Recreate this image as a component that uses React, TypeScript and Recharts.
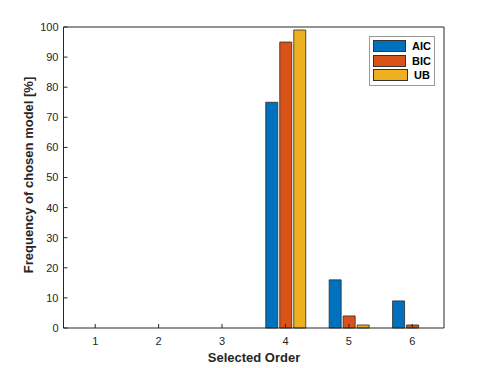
import React from 'react';
import { BarChart, Bar, XAxis, YAxis, Legend, Label } from 'recharts';

const orders = ['1', '2', '3', '4', '5', '6'];
const aicValues = [0, 0, 0, 75, 16, 9];
const bicValues = [0, 0, 0, 95, 4, 1];
const ubValues = [0, 0, 0, 99, 1, 0];
const yTicks = [0, 10, 20, 30, 40, 50, 60, 70, 80, 90, 100];

const data = orders.map((order, i) => ({
  order,
  AIC: aicValues[i],
  BIC: bicValues[i],
  UB: ubValues[i],
}));

const FONT = '"Liberation Sans", Arial, Helvetica, sans-serif';
const AXIS = '#262626';

const LegendBox = ({ payload }: any) => (
  <div
    style={{
      border: '1px solid #9a9a9a',
      background: '#fff',
      padding: '2px 3px',
      boxSizing: 'border-box',
      width: 66,
      fontFamily: FONT,
    }}
  >
    {(payload || []).map((p: any) => (
      <div key={p.value} style={{ display: 'flex', alignItems: 'center', height: 14.5 }}>
        <span
          style={{
            width: 35,
            height: 12,
            background: p.color,
            border: '1px solid #333',
            boxSizing: 'border-box',
          }}
        />
        <span style={{ marginLeft: 6, fontWeight: 'bold', fontSize: 11, color: '#000' }}>{p.value}</span>
      </div>
    ))}
  </div>
);

export default function App() {
  return (
    <div style={{ position: 'absolute', left: 0, top: 0, width: 491, height: 368, background: '#fff' }}>
      <BarChart
        width={491}
        height={368}
        data={data}
        margin={{ top: 26, right: 46, bottom: 0, left: 0 }}
        barSize={12}
        barGap={2}
        style={{ fontFamily: FONT }}
      >
        <XAxis
          dataKey="order"
          height={40}
          tickSize={-4}
          tickMargin={13}
          stroke={AXIS}
          tick={{ fill: AXIS, fontSize: 11 }}
          padding={{ left: 0, right: 0 }}
        >
          <Label
            content={() => (
              <text x={254} y={362} textAnchor="middle" fontWeight="bold" fontSize={13} fill={AXIS}>
                Selected Order
              </text>
            )}
          />
        </XAxis>
        <XAxis xAxisId="top" orientation="top" dataKey="order" height={1} tickSize={-4} tick={false} stroke={AXIS} />
        <YAxis
          width={63.5}
          domain={[0, 100]}
          ticks={yTicks}
          interval={0}
          tickSize={-4}
          tickMargin={9}
          stroke={AXIS}
          tick={{ fill: AXIS, fontSize: 11 }}
        >
          <Label
            content={() => (
              <text
                x={33}
                y={175}
                transform="rotate(-90 33 175)"
                textAnchor="middle"
                fontWeight="bold"
                fontSize={13}
                fill={AXIS}
              >
                Frequency of chosen model [%]
              </text>
            )}
          />
        </YAxis>
        <YAxis
          yAxisId="right"
          orientation="right"
          width={1}
          domain={[0, 100]}
          ticks={yTicks}
          interval={0}
          tickSize={-4}
          tick={false}
          stroke={AXIS}
        />
        <Legend
          layout="vertical"
          align="center"
          verticalAlign="middle"
          content={<LegendBox />}
          wrapperStyle={{ left: 369, top: 36, width: 66 }}
        />
        <Bar dataKey="AIC" fill="#0072BD" stroke="#2b2b2b" strokeWidth={0.8} isAnimationActive={false} />
        <Bar dataKey="BIC" fill="#D95319" stroke="#2b2b2b" strokeWidth={0.8} isAnimationActive={false} />
        <Bar dataKey="UB" fill="#EDB120" stroke="#2b2b2b" strokeWidth={0.8} isAnimationActive={false} />
      </BarChart>
    </div>
  );
}
